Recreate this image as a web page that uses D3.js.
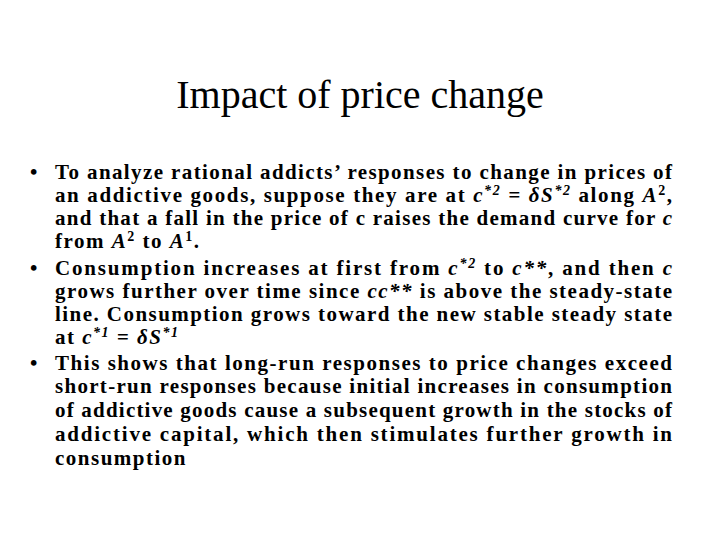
<!DOCTYPE html>
<html><head><meta charset="utf-8">
<script src="https://cdn.jsdelivr.net/npm/d3@7"></script>
<style>body{margin:0;background:#fff}</style></head>
<body><svg id="c" width="720" height="540"></svg>
<script>
const title = "Impact of price change";
// segments: [text, style] style: n normal, i italic, s superscript, si superscript italic
const lines = [
 {b:true, j:true, seg:[["To analyze rational addicts’ responses to change in prices of","n"]]},
 {j:true, seg:[["an addictive goods, suppose they are at ","n"],["c","i"],["*2","si"],[" = δ","i"],["S","i"],["*2","si"],[" along ","n"],["A","i"],["2","s"],[",","n"]]},
 {j:true, seg:[["and that a fall in the price of c raises the demand curve for ","n"],["c","i"]]},
 {seg:[["from ","n"],["A","i"],["2","s"],[" to ","n"],["A","i"],["1","s"],[".","n"]]},
 {b:true, j:true, seg:[["Consumption increases at first from ","n"],["c","i"],["*2","si"],[" to ","n"],["c**","i"],[", and then ","n"],["c","i"]]},
 {j:true, seg:[["grows further over time since ","n"],["cc**","i"],[" is above the steady-state","n"]]},
 {j:true, seg:[["line. Consumption grows toward the new stable steady state","n"]]},
 {seg:[["at ","n"],["c","i"],["*1","si"],[" = δ","i"],["S","i"],["*1","si"]]},
 {b:true, j:true, seg:[["This shows that long-run responses to price changes exceed","n"]]},
 {j:true, seg:[["short-run responses because initial increases in consumption","n"]]},
 {j:true, seg:[["of addictive goods cause a subsequent growth in the stocks of","n"]]},
 {j:true, seg:[["addictive capital, which then stimulates further growth in","n"]]},
 {seg:[["consumption","n"]]}
];
const baselines = [179,202,225,248,275,298,321,344,370,393,417,441,465];

const svg = d3.select("#c");
svg.append("text").attr("x",360).attr("y",108).attr("text-anchor","middle")
  .attr("font-family","Liberation Serif").attr("font-size",40).attr("fill","#000").text(title);

const g = svg.append("g").attr("font-family","Liberation Serif").attr("font-weight","bold")
  .attr("font-size",21).attr("fill","#000");
lines.forEach((L,k)=>{
  const y = baselines[k];
  if(L.b) g.append("text").attr("x",30).attr("y",y).text("•");
  const t = g.append("text").attr("x",55).attr("y",y);
  let sup=false;
  L.seg.forEach(([s,st])=>{
    const ts = t.append("tspan").text(s);
    if(st.includes("i")) ts.attr("font-style","italic");
    const isSup = st.includes("s");
    if(isSup){ts.attr("font-size",14); if(!sup) ts.attr("dy",-7);}
    else if(sup){ts.attr("dy",7);}
    sup=isSup;
  });
  if(L.j){ t.attr("textLength",617).attr("lengthAdjust","spacing"); }
  else { t.attr("letter-spacing",1.5); }
});
</script></body></html>
